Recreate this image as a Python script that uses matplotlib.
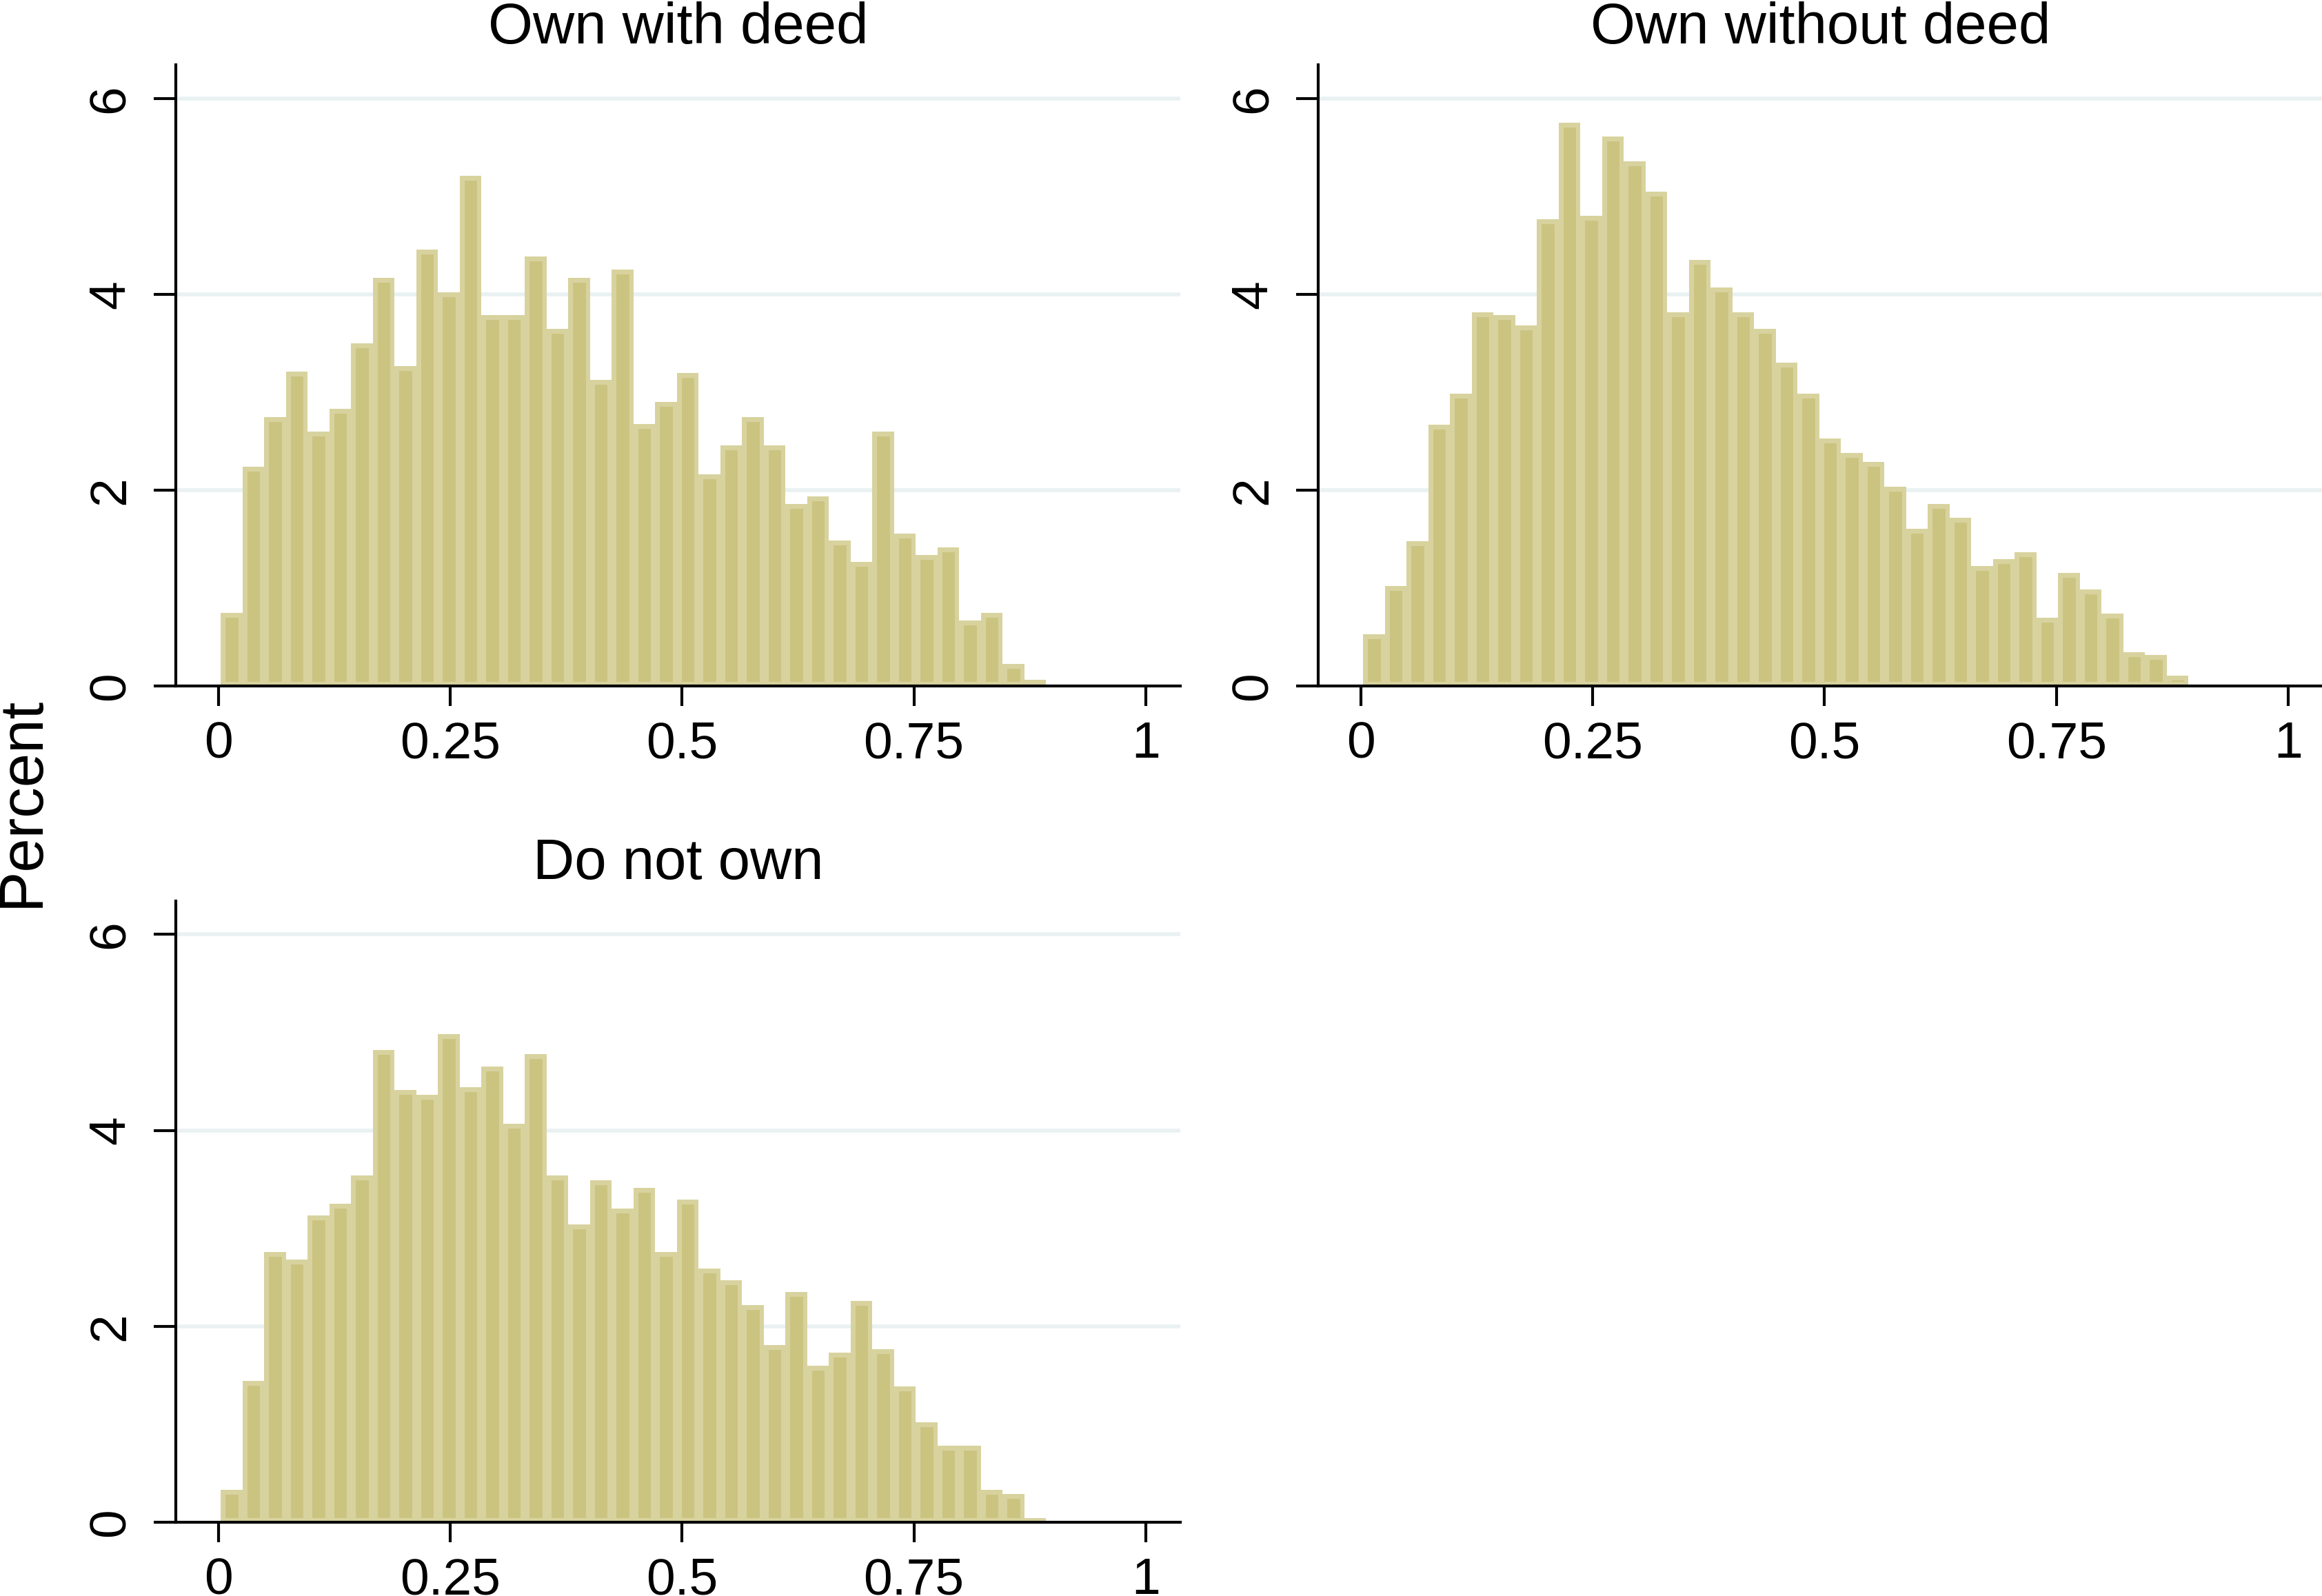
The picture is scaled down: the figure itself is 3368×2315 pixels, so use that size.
import numpy as np
import matplotlib
matplotlib.use("Agg")
import matplotlib.pyplot as plt

plt.rcParams['font.family'] = ['Liberation Sans', 'DejaVu Sans']

# bins (share of income): 38 bins from ~0.0025 to ~0.892
bin_start = 0.0025
bin_width = 0.02342
n_bins = 38

titles = ['Own with deed', 'Own without deed', 'Do not own']

pct_own_deed = [0.75, 2.24, 2.75, 3.21, 2.60, 2.83, 3.50, 4.17, 3.27, 4.46,
                4.02, 5.21, 3.79, 3.79, 4.39, 3.65, 4.17, 3.13, 4.25, 2.68,
                2.90, 3.20, 2.16, 2.46, 2.75, 2.46, 1.86, 1.94, 1.49, 1.27,
                2.60, 1.56, 1.34, 1.42, 0.67, 0.75, 0.23, 0.07]

pct_own_no_deed = [0.53, 1.02, 1.48, 2.67, 2.99, 3.82, 3.79, 3.68, 4.77, 5.75,
                   4.80, 5.61, 5.36, 5.05, 3.82, 4.35, 4.07, 3.82, 3.65, 3.30,
                   2.99, 2.53, 2.38, 2.29, 2.04, 1.61, 1.86, 1.72, 1.23, 1.30,
                   1.37, 0.70, 1.16, 0.99, 0.74, 0.35, 0.32, 0.11]

pct_not_own = [0.33, 1.44, 2.76, 2.68, 3.13, 3.25, 3.54, 4.82, 4.41, 4.36,
               4.98, 4.44, 4.65, 4.07, 4.78, 3.54, 3.04, 3.49, 3.20, 3.41,
               2.76, 3.29, 2.59, 2.47, 2.22, 1.81, 2.35, 1.60, 1.73, 2.26,
               1.77, 1.39, 1.02, 0.78, 0.78, 0.33, 0.29, 0.04]

x_ticks = [0, 0.25, 0.5, 0.75, 1]
x_labels = ['0', '0.25', '0.5', '0.75', '1']
y_ticks = [0, 2, 4, 6]

fill_col = '#CBC380'
edge_col = '#D8D29E'
grid_col = '#E9F1F2'

fig = plt.figure(figsize=(16.84, 11.575), dpi=200)

# axes boxes [left, bottom, width, height]
boxes = [
    [0.0757, 0.5700, 0.4325, 0.3892],
    [0.5677, 0.5700, 0.4325, 0.3892],
    [0.0757, 0.0462, 0.4325, 0.3892],
]
series = [pct_own_deed, pct_own_no_deed, pct_not_own]

lefts = bin_start + bin_width * np.arange(n_bins)

for box, vals, title in zip(boxes, series, titles):
    ax = fig.add_axes(box)
    bars = ax.bar(lefts, vals, width=bin_width, align='edge',
                  color=fill_col, edgecolor=edge_col, linewidth=4.75, zorder=2)
    for b in bars:
        b.set_clip_path(b)  # keep the outline inside the bar, like Stata

    ax.set_xlim(-0.046, 1.037)
    ax.set_ylim(0, 6.34)
    for g in y_ticks[1:]:
        ax.axhline(g, color=grid_col, lw=2.0, zorder=0.5)

    ax.set_xticks(x_ticks)
    ax.set_xticklabels(x_labels)
    ax.set_yticks(y_ticks)
    ax.set_yticklabels([str(t) for t in y_ticks], rotation=90, va='center')

    ax.tick_params(axis='x', length=10.5, width=1.5, pad=7.5, labelsize=27)
    ax.tick_params(axis='y', length=11.5, width=1.5, pad=10, labelsize=27)

    for s in ['top', 'right']:
        ax.spines[s].set_visible(False)
    for s in ['left', 'bottom']:
        ax.spines[s].set_linewidth(1.5)
        ax.spines[s].set_zorder(3)

    ax.set_title(title, fontsize=30, pad=11.5)

fig.text(33 / 3368, 1 - 1163 / 2315, 'Percent', rotation=90,
         ha='center', va='center', fontsize=32)

fig.savefig('out.png', dpi=200, facecolor='white')
